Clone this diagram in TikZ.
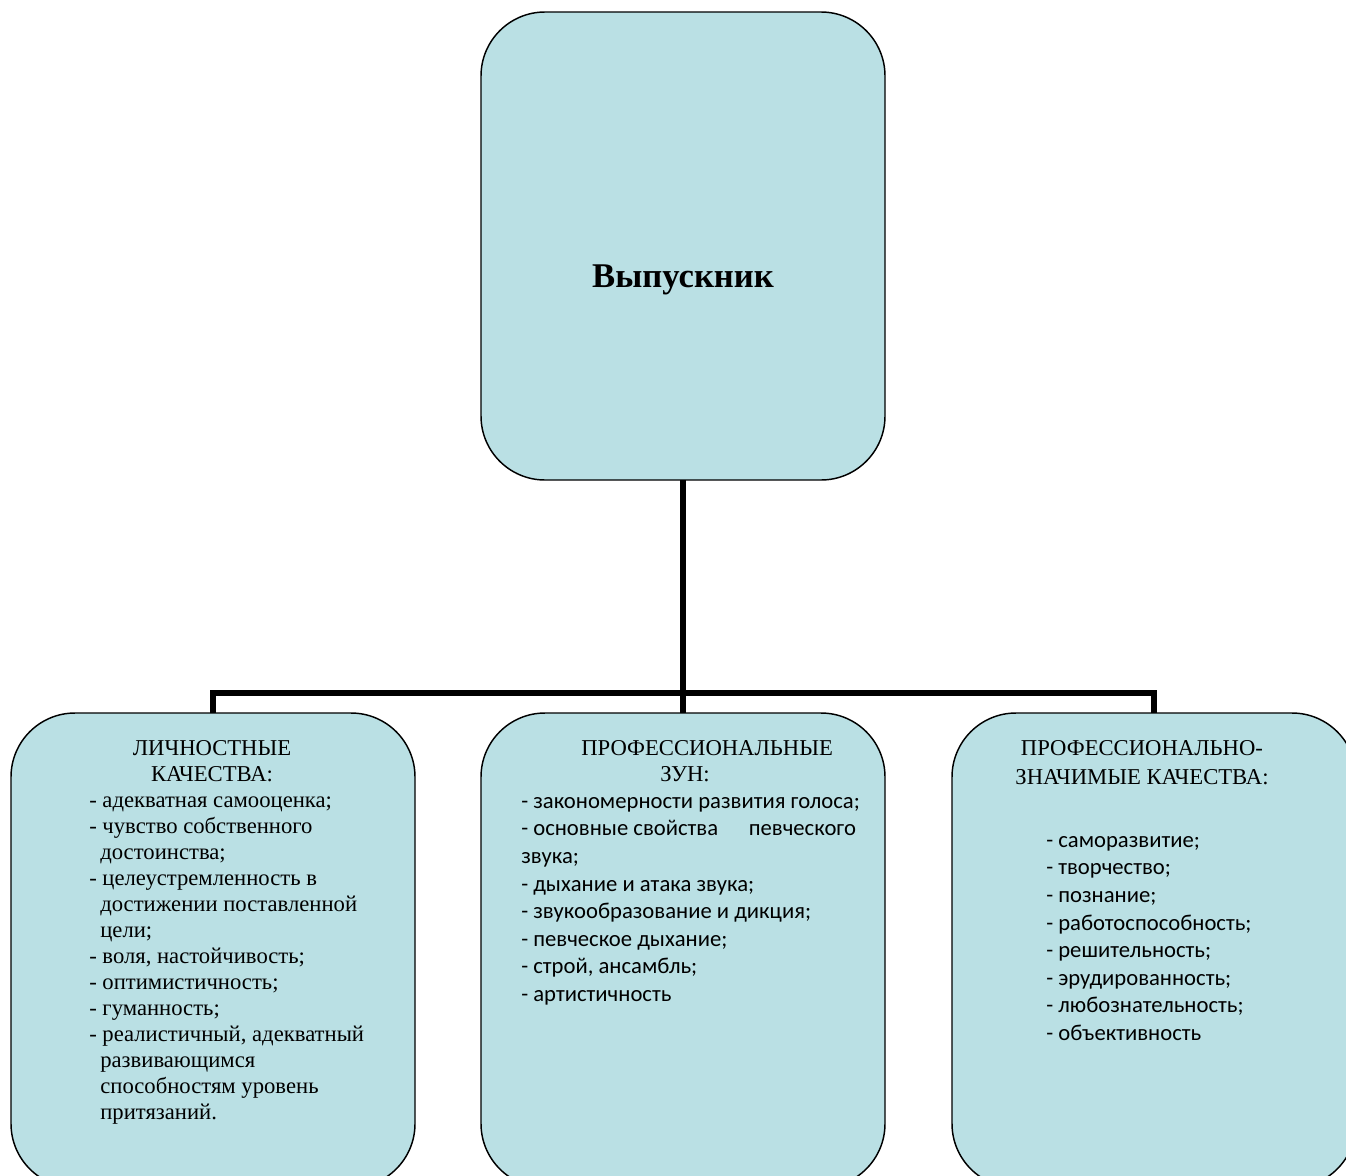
\documentclass[tikz,border=0pt]{standalone}
\usepackage{fontspec}
\setmainfont{Liberation Serif}
\newfontfamily\calibri{Carlito}
\usetikzlibrary{positioning}
\definecolor{boxfill}{RGB}{186,224,228}
\tikzset{
        block/.style={draw=black,line width=1.1pt,fill=boxfill,rounded corners=48pt,
                      minimum width=303pt,inner sep=0pt,outer sep=0pt},
        topblock/.style={block,minimum height=351pt},
        lowblock/.style={block,minimum height=356pt},
        link/.style={line width=4.2pt},
        serif/.style={font=\fontsize{17}{19.5}\selectfont,inner sep=0pt},
        sans/.style={font=\calibri\fontsize{17}{20.7}\selectfont,inner sep=0pt}
    }

\begin{document}
\begin{tikzpicture}[x=0.75pt,y=-0.75pt]
                \useasboundingbox (0,0) rectangle (1346,1175);
                \clip (0,0) rectangle (1346,1175);
                % boxes
                \node[topblock] (grad) at (683,246) {};
                \node[lowblock] (prof) [below=174.75pt of grad] {};
                \node[lowblock] (pers) [left=49.5pt of prof] {};
                \node[lowblock] (sig) [right=50.25pt of prof] {};
                \coordinate (fork) at (683,693);
                % connectors
                \draw[link] (grad.south) -- (fork);
                \draw[link] (pers.north) |- (fork) -| (sig.north);
                \draw[link] (fork) -- (prof.north);
                % texts
                \node[anchor=base,font=\fontsize{26}{30}\selectfont\bfseries] (gradtext) at (683,287) {Выпускник};
                \node[serif,anchor=north,align=center] (perstitle) at (212,736.8)
                    {\strut ЛИЧНОСТНЫЕ\\КАЧЕСТВА:};
                \node[serif,anchor=north west,align=left] (perslist) at (89,788.8)
                    {\strut- адекватная самооценка;\\
                     - чувство собственного\\
                     \hspace*{8.3pt}достоинства;\\
                     - целеустремленность в\\
                     \hspace*{8.3pt}достижении поставленной\\
                     \hspace*{8.3pt}цели;\\
                     - воля, настойчивость;\\
                     - оптимистичность;\\
                     - гуманность;\\
                     - реалистичный, адекватный\\
                     \hspace*{8.3pt}развивающимся\\
                     \hspace*{8.3pt}способностям уровень\\
                     \hspace*{8.3pt}притязаний.};
                \node[serif,anchor=north west,align=left] (proftitle) at (581,736.8)
                    {\strut ПРОФЕССИОНАЛЬНЫЕ\\\hspace*{59.25pt}ЗУН:};
                \node[sans,anchor=north west,align=left] (proflist) at (521,788.7)
                    {\strut- закономерности развития голоса;\\
                     \makebox[251pt][l]{- основные свойства\hfill певческого}\\
                     звука;\\
                     - дыхание и атака звука;\\
                     - звукообразование и дикция;\\
                     - певческое дыхание;\\
                     - строй, ансамбль;\\
                     - артистичность};
                \node[serif,anchor=north,align=center] (sigtitle) at (1142,736.8)
                    {\strut ПРОФЕССИОНАЛЬНО-\\[2.25pt]ЗНАЧИМЫЕ КАЧЕСТВА:};
                \node[sans,anchor=north west,align=left] (siglist) at (1046,827.7)
                    {\strut- саморазвитие;\\
                     - творчество;\\
                     - познание;\\
                     - работоспособность;\\
                     - решительность;\\
                     - эрудированность;\\
                     - любознательность;\\
                     - объективность};
\end{tikzpicture}
\end{document}
